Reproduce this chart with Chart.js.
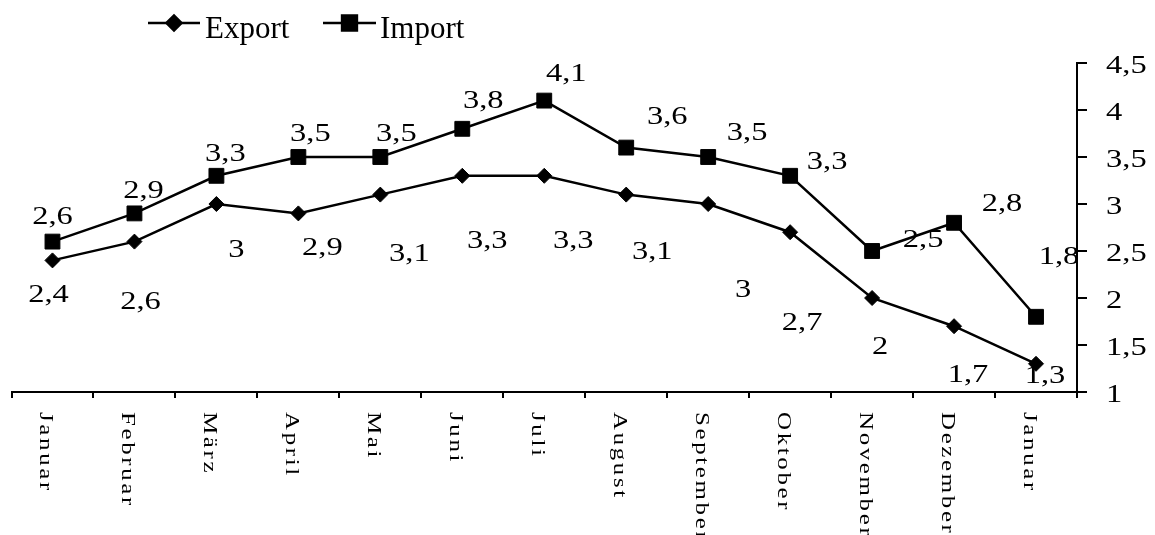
<!DOCTYPE html>
<html>
<head>
<meta charset="utf-8">
<script src="https://cdn.jsdelivr.net/npm/chart.js@4/dist/chart.umd.min.js"></script>
<style>
  html, body { margin: 0; padding: 0; background: #ffffff; }
  #wrap { width: 1155px; height: 535px; position: relative; }
</style>
</head>
<body>
<div id="wrap"><canvas id="c"></canvas></div>
<script>
// ---- data ----
const categories = ['Januar','Februar','März','April','Mai','Juni','Juli','August','September','Oktober','November','Dezember','Januar'];
const exportValues = [2.4, 2.6, 3, 2.9, 3.1, 3.3, 3.3, 3.1, 3, 2.7, 2, 1.7, 1.3];
const importValues = [2.6, 2.9, 3.3, 3.5, 3.5, 3.8, 4.1, 3.6, 3.5, 3.3, 2.5, 2.8, 1.8];
const yTickLabels = ['1','1,5','2','2,5','3','3,5','4','4,5'];
const seriesNames = ['Export','Import'];

// ---- label placement (pixel offsets from each point, layout only) ----
const exportLabelOffsets = [[-4,35],[6,61],[20,46],[24,35],[29,60],[25,66],[29,66],[26,58],[35,86],[12,91],[8,49],[14,49],[9,13]];
const importLabelOffsets = [[0,-24],[9,-22],[9,-21],[12,-23],[16,-23],[21,-27],[22,-26],[41,-30],[39,-24],[37,-13],[51,-11],[48,-18],[23,-59]];

const SERIF = '"Liberation Serif", "Times New Roman", serif';
const STRETCH = 1.3;
const CAT_SQUEEZE = 0.73;
const fmt = v => String(v).replace('.', ',');

const labelsPlugin = {
  id: 'customText',
  afterDatasetsDraw(chart) {
    const ctx = chart.ctx;
    ctx.save();
    ctx.fillStyle = '#000';
    ctx.font = '25px ' + SERIF;
    ctx.textAlign = 'center';
    ctx.textBaseline = 'middle';
    const offs = [exportLabelOffsets, importLabelOffsets];
    chart.data.datasets.forEach((ds, di) => {
      const meta = chart.getDatasetMeta(di);
      meta.data.forEach((pt, i) => {
        const o = offs[di][i];
        ctx.save();
        ctx.translate(pt.x + o[0], pt.y + o[1]);
        ctx.scale(STRETCH, 1);
        ctx.fillText(fmt(ds.data[i]), 0, 0);
        ctx.restore();
      });
    });
    ctx.restore();
  },
  afterDraw(chart) {
    const ctx = chart.ctx;
    const xs = chart.scales.x;
    const ys = chart.scales.y;

    // y tick labels (right side)
    ctx.save();
    ctx.fillStyle = '#000';
    ctx.font = '25px ' + SERIF;
    ctx.textAlign = 'left';
    ctx.textBaseline = 'middle';
    ys.ticks.forEach((t, i) => {
      const py = ys.getPixelForValue(t.value);
      ctx.save();
      ctx.translate(ys.left + 29, py + 3);
      ctx.scale(STRETCH, 1);
      ctx.fillText(yTickLabels[i], 0, 0);
      ctx.restore();
    });
    ctx.restore();

    // rotated category labels (reading top to bottom)
    ctx.save();
    ctx.fillStyle = '#000';
    ctx.font = '25px ' + SERIF;
    try { ctx.letterSpacing = '2.6px'; } catch (e) {}
    ctx.textAlign = 'left';
    ctx.textBaseline = 'alphabetic';
    categories.forEach((lab, i) => {
      const px = xs.getPixelForValue(i);
      ctx.save();
      ctx.translate(px - 12, xs.top + 20);
      ctx.scale(CAT_SQUEEZE, 1);
      ctx.rotate(Math.PI / 2);
      ctx.fillText(lab, 0, 0);
      ctx.restore();
    });
    ctx.restore();

    // legend
    ctx.save();
    ctx.fillStyle = '#000';
    ctx.strokeStyle = '#000';
    ctx.lineWidth = 2.5;
    ctx.font = '31px ' + SERIF;
    ctx.textAlign = 'left';
    ctx.textBaseline = 'alphabetic';
    const items = [
      {x0: 148, x1: 200, text: seriesNames[0], style: 'rectRot', r: 7.5, tx: 205},
      {x0: 323, x1: 376, text: seriesNames[1], style: 'rect', r: 10.5, tx: 380}
    ];
    const ly = 23;
    items.forEach(it => {
      ctx.beginPath();
      ctx.moveTo(it.x0, ly);
      ctx.lineTo(it.x1, ly);
      ctx.stroke();
      Chart.helpers.drawPoint(ctx, {pointStyle: it.style, radius: it.r, borderWidth: 1, rotation: 0}, (it.x0 + it.x1) / 2, ly);
      ctx.fill();
      ctx.fillText(it.text, it.tx, 38);
    });
    ctx.restore();
  }
};

new Chart(document.getElementById('c'), {
  type: 'line',
  data: {
    labels: categories,
    datasets: [
      {
        label: seriesNames[0],
        data: exportValues,
        borderColor: '#000',
        backgroundColor: '#000',
        borderWidth: 2.5,
        pointStyle: 'rectRot',
        pointRadius: 7.5,
        pointBorderWidth: 1,
        pointBackgroundColor: '#000',
        pointBorderColor: '#000',
        tension: 0,
        fill: false
      },
      {
        label: seriesNames[1],
        data: importValues,
        borderColor: '#000',
        backgroundColor: '#000',
        borderWidth: 2.5,
        pointStyle: 'rect',
        pointRadius: 10.5,
        pointBorderWidth: 1,
        pointBackgroundColor: '#000',
        pointBorderColor: '#000',
        tension: 0,
        fill: false
      }
    ]
  },
  options: {
    responsive: true,
    maintainAspectRatio: false,
    animation: false,
    devicePixelRatio: 1,
    layout: { padding: { left: 11, top: 63, right: 0, bottom: 0 } },
    plugins: {
      legend: { display: false },
      tooltip: { enabled: false }
    },
    scales: {
      x: {
        type: 'category',
        offset: true,
        grid: {
          offset: true,
          drawOnChartArea: false,
          drawTicks: true,
          tickLength: 6,
          color: '#000',
          lineWidth: 2
        },
        border: { display: true, color: '#000', width: 2 },
        ticks: { display: false },
        afterFit(scale) { scale.height = 143; }
      },
      y: {
        position: 'right',
        min: 1,
        max: 4.5,
        grid: {
          drawOnChartArea: false,
          drawTicks: true,
          tickLength: 10,
          color: '#000',
          lineWidth: 2
        },
        border: { display: true, color: '#000', width: 2 },
        ticks: {
          display: false,
          stepSize: 0.5
        },
        afterFit(scale) { scale.width = 78; }
      }
    }
  },
  plugins: [labelsPlugin]
});
</script>
</body>
</html>
